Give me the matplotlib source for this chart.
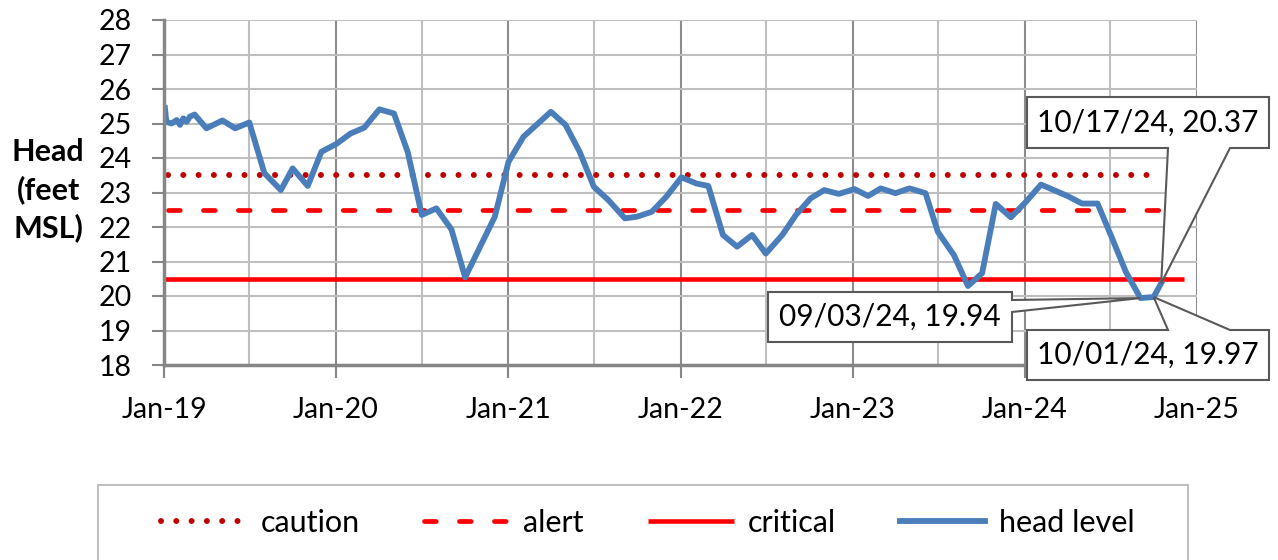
import matplotlib
matplotlib.use("Agg")
import matplotlib.pyplot as plt
import matplotlib.dates as mdates
from matplotlib.patches import Polygon, Rectangle
from matplotlib.transforms import IdentityTransform
import pandas as pd

plt.rcParams['font.family'] = ['Lato', 'DejaVu Sans']

# head level readings
dates = [
    '2019-01-03', '2019-01-06', '2019-01-17', '2019-01-28', '2019-02-04',
    '2019-02-11', '2019-02-18', '2019-02-25', '2019-03-07', '2019-04-01',
    '2019-05-05', '2019-06-01', '2019-07-01', '2019-08-02', '2019-09-06',
    '2019-10-01', '2019-11-02', '2019-12-01', '2020-01-02', '2020-02-01',
    '2020-03-01', '2020-04-02', '2020-05-03', '2020-06-01', '2020-07-01',
    '2020-08-01', '2020-09-02', '2020-10-01', '2020-12-03', '2021-01-01',
    '2021-02-02', '2021-04-01', '2021-05-02', '2021-06-01', '2021-07-01',
    '2021-08-01', '2021-09-05', '2021-10-01', '2021-11-01', '2021-12-02',
    '2022-01-03', '2022-02-04', '2022-03-01', '2022-04-01', '2022-05-01',
    '2022-06-02', '2022-07-01', '2022-08-05', '2022-09-03', '2022-10-04',
    '2022-11-02', '2022-12-03', '2023-01-05', '2023-02-03', '2023-03-02',
    '2023-04-02', '2023-05-02', '2023-06-05', '2023-07-01', '2023-08-04',
    '2023-09-03', '2023-10-03', '2023-11-01', '2023-12-03', '2024-01-04',
    '2024-02-05', '2024-04-01', '2024-05-02', '2024-06-04', '2024-07-05',
    '2024-08-03', '2024-09-03', '2024-10-01', '2024-10-17',
]
head = [
    25.45, 25.05, 25.00, 25.10, 24.96,
    25.15, 25.05, 25.20, 25.26, 24.86,
    25.09, 24.86, 25.03, 23.56, 23.07,
    23.70, 23.19, 24.18, 24.41, 24.71,
    24.88, 25.41, 25.29, 24.18, 22.35,
    22.54, 21.93, 20.54, 22.30, 23.89,
    24.62, 25.34, 24.96, 24.18, 23.17,
    22.78, 22.25, 22.30, 22.44, 22.88,
    23.44, 23.26, 23.19, 21.77, 21.43,
    21.77, 21.23, 21.77, 22.35, 22.83,
    23.07, 22.96, 23.10, 22.90, 23.12,
    22.98, 23.12, 22.98, 21.86, 21.19,
    20.29, 20.66, 22.67, 22.28, 22.73,
    23.23, 22.90, 22.68, 22.68, 21.67,
    20.70, 19.94, 19.97, 20.37,
]

caution_level = 23.5
alert_level = 22.5
critical_level = 20.5
threshold_dates = ['2019-01-10', '2024-10-17']
critical_dates = ['2019-01-01', '2024-12-05']

W, H = 1278, 560


def fx(px):
    return px / W


def fy(py):
    return 1 - py / H


fig = plt.figure(figsize=(W / 100, H / 100), dpi=100)
ax = fig.add_axes([fx(164), fy(365), (1197 - 164) / W, (365 - 20) / H])

t = pd.to_datetime(dates)
tt = pd.to_datetime(threshold_dates)
tc = pd.to_datetime(critical_dates)

l_caution, = ax.plot(tt, [caution_level] * 2, color='#c00000', lw=4.3,
                     linestyle=(0, (0.01, 2.55)), dash_capstyle='round', label='caution')
l_alert, = ax.plot(tt, [alert_level] * 2, color='#ff0000', lw=3.4,
                   linestyle=(0, (2.5, 4.9)), dash_capstyle='round', label='alert')
l_crit, = ax.plot(tc, [critical_level] * 2, color='#ff0000', lw=3.3,
                  solid_capstyle='butt', label='critical')
l_head, = ax.plot(t, head, color='#4a7ebb', lw=4.2, solid_joinstyle='round',
                  label='head level')

ax.set_xlim(pd.Timestamp('2019-01-01'), pd.Timestamp('2025-01-01'))
ax.set_ylim(18, 28)
ax.set_yticks(range(18, 29))
ax.xaxis.set_major_locator(mdates.YearLocator())
ax.xaxis.set_major_formatter(mdates.DateFormatter('%b-%y'))
ax.xaxis.set_minor_locator(mdates.MonthLocator(bymonth=7))

ax.grid(which='major', axis='x', color='#8c8c8c', lw=1.5)
ax.grid(which='minor', axis='x', color='#bfbfbf', lw=1.5)
ax.grid(which='major', axis='y', color='#bfbfbf', lw=1.5)
ax.set_axisbelow(True)

for s in ['top', 'right']:
    ax.spines[s].set_visible(False)
for s in ['left', 'bottom']:
    ax.spines[s].set_color('#868686')
    ax.spines[s].set_linewidth(2.5)

ax.tick_params(which='minor', length=0)
ax.tick_params(which='major', length=9, width=1.5, color='#868686', labelsize=20.5)
ax.tick_params(axis='y', pad=14)
ax.tick_params(axis='x', pad=14)

fig.text(fx(48), fy(190), 'Head\n(feet\nMSL)', ha='center', va='center',
         fontsize=22, fontweight='bold', linespacing=1.38)

# legend
fig.legend(handles=[l_caution, l_alert, l_crit, l_head], loc='center',
           bbox_to_anchor=(fx(648), fy(523)), ncol=4, frameon=False, fontsize=22,
           handlelength=2.8, handletextpad=0.45, columnspacing=2.1)
fig.add_artist(Rectangle((fx(98), fy(590)), (1188 - 98) / W, (590 - 485) / H,
                         transform=fig.transFigure, fill=False, ec='#bfbfbf', lw=1.5))

# data callouts for the last three readings: (box l, t, r, b), side, base
callouts = [
    (len(head) - 1, (1027, 97, 1269, 148), 'bottom', (1168, 1230)),
    (len(head) - 3, (768, 292, 1012, 342), 'right', (300, 312)),
    (len(head) - 2, (1027, 330, 1269, 380), 'top', (1168, 1230)),
]
for i, (l, tp, r, b), side, (b0, b1) in callouts:
    X, Y = ax.transData.transform((mdates.date2num(t[i]), head[i]))
    tip = (X, H - Y)
    if side == 'bottom':
        pts = [(l, tp), (r, tp), (r, b), (b1, b), tip, (b0, b), (l, b)]
    elif side == 'top':
        pts = [(l, tp), (b0, tp), tip, (b1, tp), (r, tp), (r, b), (l, b)]
    else:
        pts = [(l, tp), (r, tp), (r, b0), tip, (r, b1), (r, b), (l, b)]
    verts = [(px, H - py) for px, py in pts]
    fig.add_artist(Polygon(verts, closed=True, fc='white', ec='#595959', lw=1.5,
                           transform=IdentityTransform(), zorder=5))
    fig.text(fx((l + r) / 2), fy((tp + b) / 2), f"{t[i]:%m/%d/%y}, {head[i]:.2f}",
             ha='center', va='center', fontsize=21.5, zorder=6)

fig.savefig('out.png', dpi=100)
